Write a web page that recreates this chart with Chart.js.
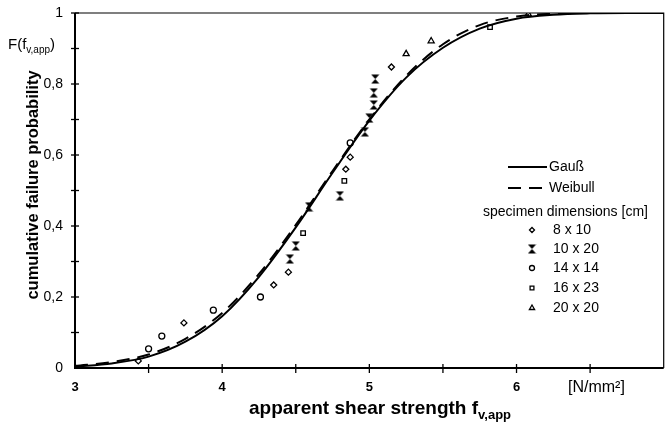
<!DOCTYPE html>
<html>
<head>
<meta charset="utf-8">
<script src="https://cdn.jsdelivr.net/npm/chart.js@4"></script>
<style>
  html, body { margin: 0; background: #fff; }
  #wrap { width: 669px; height: 425px; }
</style>
</head>
<body>
<div id="wrap"><canvas id="cdfChart"></canvas></div>
<script>
// fitted distribution curves
const curveX   = [3.0, 3.25, 3.5, 3.75, 4.0, 4.25, 4.5, 4.75, 5.0, 5.25, 5.5, 5.75, 6.0, 6.25, 6.5, 6.75, 7.0];
const gaussY   = [0.004, 0.013, 0.032, 0.074, 0.146, 0.257, 0.396, 0.55, 0.697, 0.818, 0.902, 0.956, 0.984, 0.995, 0.999, 1.0, 1.0];
const weibullY = [0.006, 0.017, 0.038, 0.082, 0.155, 0.265, 0.403, 0.555, 0.70, 0.823, 0.912, 0.966, 0.99, 0.998, 1.0, 1.0, 1.0];

// test results by specimen size
const s8x10X  = [3.43, 3.74, 4.35, 4.45, 4.84, 4.87, 5.15];
const s8x10Y  = [0.02, 0.127, 0.234, 0.27, 0.56, 0.594, 0.848];
const s10x20X = [4.46, 4.50, 4.59, 4.80, 4.97, 5.0, 5.03, 5.03, 5.04];
const s10x20Y = [0.307, 0.344, 0.454, 0.485, 0.665, 0.704, 0.741, 0.775, 0.814];
const s14x14X = [3.50, 3.59, 3.94, 4.26, 4.87];
const s14x14Y = [0.054, 0.09, 0.163, 0.20, 0.634];
const s16x23X = [4.55, 4.83, 5.82];
const s16x23Y = [0.38, 0.527, 0.96];
const s20x20X = [5.25, 5.42, 6.08];
const s20x20Y = [0.885, 0.921, 0.997];

const xTicks = [3, 4, 5, 6];
const yTicks = [0, 0.2, 0.4, 0.6, 0.8, 1];

const FONT = "'Liberation Sans', Arial, sans-serif";

function pairs(xs, ys) {
  return xs.map((v, i) => ({ x: v, y: ys[i] }));
}

// the "x with bars" marker used for 10 x 20
function hourglass() {
  const c = document.createElement("canvas");
  c.width = 9;
  c.height = 10;
  const g = c.getContext("2d");
  g.fillStyle = "#000";
  g.beginPath();
  g.moveTo(0.5, 0.5); g.lineTo(8.5, 0.5); g.lineTo(4.5, 5); g.closePath();
  g.moveTo(0.5, 9.5); g.lineTo(8.5, 9.5); g.lineTo(4.5, 5); g.closePath();
  g.fill();
  return c;
}
const hourglassImg = hourglass();

function marker(label, xs, ys, style, r) {
  return {
    type: "scatter",
    label: label,
    data: pairs(xs, ys),
    showLine: false,
    pointStyle: style,
    pointRadius: r,
    pointHoverRadius: r,
    pointBorderWidth: 1.3,
    borderColor: "#000",
    backgroundColor: "rgba(0,0,0,0)"
  };
}

// text with a subscript part, returns the x where it ends
function subText(ctx, base, sub, x, y, size, bold, align) {
  const w = bold ? "bold " : "";
  const subSize = Math.round(size * 0.68);
  ctx.font = w + size + "px " + FONT;
  const bw = ctx.measureText(base).width;
  ctx.font = w + subSize + "px " + FONT;
  const sw = ctx.measureText(sub).width;
  let x0 = x;
  if (align === "center") x0 = x - (bw + sw) / 2;
  ctx.textAlign = "left";
  ctx.textBaseline = "alphabetic";
  ctx.font = w + size + "px " + FONT;
  ctx.fillText(base, x0, y);
  ctx.font = w + subSize + "px " + FONT;
  ctx.fillText(sub, x0 + bw, y + size * 0.25);
  return x0 + bw + sw;
}

const decor = {
  id: "decor",
  afterDraw(chart) {
    const { ctx, chartArea: a, scales } = chart;
    const sx = scales.x, sy = scales.y;
    ctx.save();
    ctx.strokeStyle = "#000";
    ctx.fillStyle = "#000";

    // frame
    ctx.lineWidth = 1.2;
    ctx.beginPath();
    ctx.moveTo(a.left, a.top); ctx.lineTo(a.right, a.top); ctx.lineTo(a.right, a.bottom);
    ctx.stroke();
    ctx.lineWidth = 2;
    ctx.beginPath();
    ctx.moveTo(a.left, a.top); ctx.lineTo(a.left, a.bottom); ctx.lineTo(a.right, a.bottom);
    ctx.stroke();

    // crossing tick marks
    ctx.lineWidth = 1.3;
    sx.ticks.forEach(t => {
      if (t.value <= sx.min || t.value >= sx.max) return;
      const px = sx.getPixelForValue(t.value);
      ctx.beginPath(); ctx.moveTo(px, a.bottom - 4); ctx.lineTo(px, a.bottom + 5); ctx.stroke();
    });
    sy.ticks.forEach(t => {
      if (t.value <= sy.min) return;
      const py = sy.getPixelForValue(t.value);
      ctx.beginPath(); ctx.moveTo(a.left - 4, py); ctx.lineTo(a.left + 4, py); ctx.stroke();
    });

    // axis titles
    const fx = subText(ctx, "F(f", "v,app", 8, 49, 15, false, "left");
    ctx.font = "15px " + FONT;
    ctx.fillText(")", fx, 49);

    ctx.save();
    ctx.translate(33, 185);
    ctx.rotate(-Math.PI / 2);
    ctx.font = "bold 16.5px " + FONT;
    ctx.textAlign = "center";
    ctx.textBaseline = "middle";
    ctx.fillText("cumulative failure probability", 0, 0);
    ctx.restore();

    subText(ctx, "apparent shear strength f", "v,app", 380, 414, 19, true, "center");

    ctx.font = "16px " + FONT;
    ctx.textAlign = "left";
    ctx.textBaseline = "middle";
    ctx.fillText("[N/mm²]", 568, 388);

    // legend
    const lx0 = 508, lx1 = 547, tx = 549;
    ctx.lineWidth = 2;
    ctx.beginPath(); ctx.moveTo(lx0, 167); ctx.lineTo(lx1, 167); ctx.stroke();
    ctx.setLineDash([13, 8]);
    ctx.beginPath(); ctx.moveTo(lx0, 188); ctx.lineTo(lx1, 188); ctx.stroke();
    ctx.setLineDash([]);
    ctx.font = "14px " + FONT;
    ctx.fillText(chart.data.datasets[0].label, tx, 167);
    ctx.fillText(chart.data.datasets[1].label, tx, 188);
    ctx.fillText("specimen dimensions [cm]", 483, 212);
    const rows = [230, 249, 268, 288, 308];
    chart.data.datasets.slice(2).forEach((ds, i) => {
      ctx.fillStyle = "rgba(0,0,0,0)";
      ctx.lineWidth = ds.pointBorderWidth;
      Chart.helpers.drawPoint(ctx, {
        pointStyle: ds.pointStyle,
        radius: ds.pointRadius - 0.5,
        borderWidth: ds.pointBorderWidth,
        rotation: 0
      }, 532, rows[i]);
      ctx.fillStyle = "#000";
      ctx.fillText(ds.label, 553, rows[i]);
    });
    ctx.restore();
  }
};

const ctx = document.getElementById("cdfChart").getContext("2d");

const cdfChart = new Chart(ctx, {
  data: {
    datasets: [
      {
        type: "line",
        label: "Gauß",
        data: pairs(curveX, gaussY),
        borderColor: "#000",
        borderWidth: 2,
        pointRadius: 0,
        cubicInterpolationMode: "monotone",
        fill: false
      },
      {
        type: "line",
        label: "Weibull",
        data: pairs(curveX, weibullY),
        borderColor: "#000",
        borderWidth: 2,
        borderDash: [13, 8],
        pointRadius: 0,
        cubicInterpolationMode: "monotone",
        fill: false
      },
      marker("8 x 10", s8x10X, s8x10Y, "rectRot", 3),
      marker("10 x 20", s10x20X, s10x20Y, hourglassImg, 4),
      marker("14 x 14", s14x14X, s14x14Y, "circle", 3),
      marker("16 x 23", s16x23X, s16x23Y, "rect", 3.2),
      marker("20 x 20", s20x20X, s20x20Y, "triangle", 3.5)
    ]
  },
  options: {
    responsive: true,
    maintainAspectRatio: false,
    animation: false,
    layout: { padding: { top: 13, right: 2, left: 0, bottom: 0 } },
    plugins: {
      legend: { display: false },
      tooltip: { enabled: false }
    },
    scales: {
      x: {
        type: "linear",
        min: 3,
        max: 7,
        grid: { display: false },
        border: { display: false },
        afterFit: s => { s.height = 57; s.paddingLeft = 0; s.paddingRight = 0; },
        ticks: {
          stepSize: 0.5,
          padding: 4,
          autoSkip: false,
          maxRotation: 0,
          color: "#000",
          font: { family: FONT, size: 13, weight: "bold" },
          callback: v => (xTicks.includes(v) ? String(v) : "")
        }
      },
      y: {
        type: "linear",
        min: 0,
        max: 1,
        grid: { display: false },
        border: { display: false },
        afterFit: s => { s.width = 75; s.paddingTop = 0; s.paddingBottom = 0; },
        ticks: {
          stepSize: 0.1,
          padding: 4,
          autoSkip: false,
          color: "#000",
          font: { family: FONT, size: 14 },
          callback: v => {
            const r = Math.round(v * 10) / 10;
            return yTicks.includes(r) ? String(r).replace(".", ",") : "";
          }
        }
      }
    }
  },
  plugins: [decor]
});
</script>
</body>
</html>
